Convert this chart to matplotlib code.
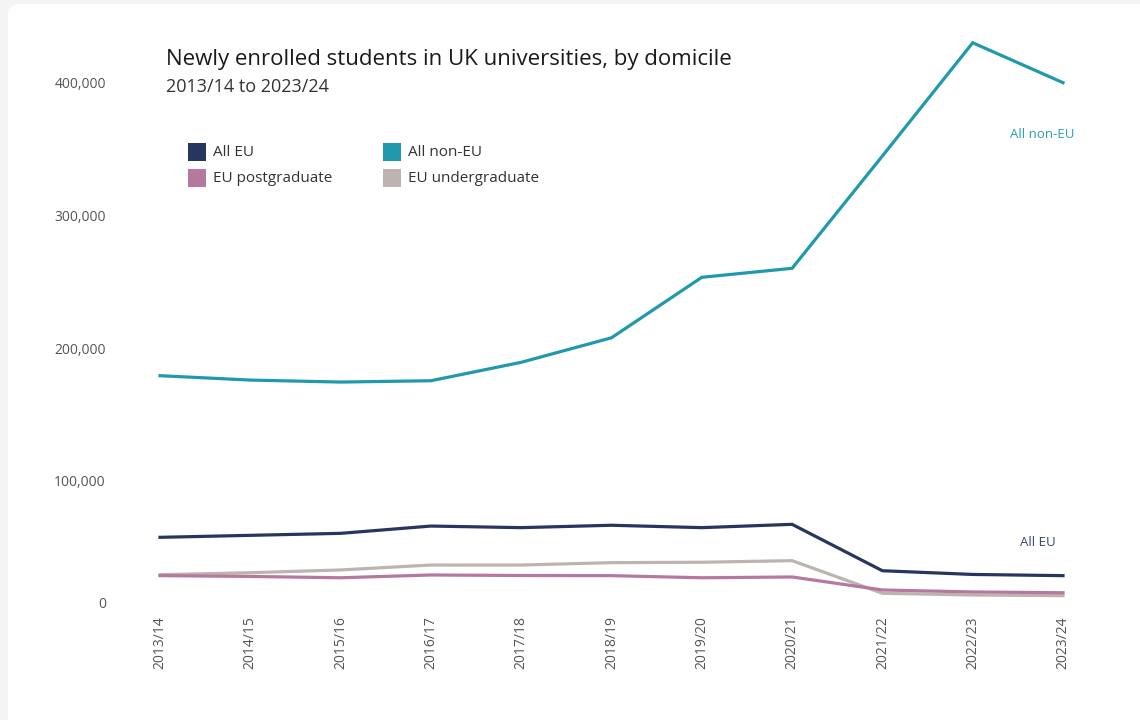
import matplotlib
matplotlib.use("Agg")
import matplotlib.pyplot as plt
from matplotlib.patches import FancyBboxPatch, Rectangle
from matplotlib.ticker import FuncFormatter

plt.rcParams['font.family'] = ['Open Sans', 'DejaVu Sans']

years = ["2013/14", "2014/15", "2015/16", "2016/17", "2017/18", "2018/19",
         "2019/20", "2020/21", "2021/22", "2022/23", "2023/24"]

all_eu = [57300, 58800, 60300, 65800, 64600, 66400, 64600, 67100, 32100, 29300, 28400]
all_non_eu = [179200, 175900, 174400, 175400, 189300, 207800, 253400, 260200, 344900, 430300, 400200]
eu_postgrad = [28400, 27800, 26800, 28900, 28500, 28400, 26800, 27400, 17600, 16100, 15500]
eu_undergrad = [29100, 30600, 32700, 36400, 36400, 38200, 38500, 39700, 15100, 13800, 13300]

series_names = ["All EU", "All non-EU", "EU postgraduate", "EU undergraduate"]
colors = {"All EU": "#27365f", "All non-EU": "#2199ad",
          "EU postgraduate": "#b5789f", "EU undergraduate": "#bdb4b0"}

yticks = [0, 100000, 200000, 300000, 400000]

W, H = 1140, 720
fig = plt.figure(figsize=(W / 100, H / 100), dpi=100)
fig.patch.set_facecolor("#f4f4f4")
panel = FancyBboxPatch((8 / W, -0.05), 1.2, (720 - 4) / H + 0.05,
                       boxstyle="round,pad=0,rounding_size=0.012",
                       transform=fig.transFigure, facecolor="white",
                       edgecolor="none", zorder=-10)
fig.patches.append(panel)

x0, x1 = 160, 1063
y_zero, y_top = 613.3, 29.9
ax = fig.add_axes([x0 / W, (H - y_zero) / H, (x1 - x0) / W, (y_zero - y_top) / H])
ax.set_facecolor("none")
ax.set_xlim(0, len(years) - 1)
ax.set_ylim(0, 440000)

xs = list(range(len(years)))
data = {"All EU": all_eu, "All non-EU": all_non_eu,
        "EU postgraduate": eu_postgrad, "EU undergraduate": eu_undergrad}
for name in ["EU undergraduate", "EU postgraduate", "All EU", "All non-EU"]:
    ax.plot(xs, data[name], color=colors[name], lw=2.3, clip_on=False,
            solid_joinstyle="miter", zorder=3)

for s in ax.spines.values():
    s.set_visible(False)
ax.set_xticks(xs)
ax.set_xticklabels(years, rotation=90, fontsize=10, color="#555555")
ax.set_yticks(yticks)
ax.yaxis.set_major_formatter(FuncFormatter(lambda v, p: "" if v == 0 else f"{int(v):,}"))
ax.tick_params(axis="y", length=0, pad=39, labelsize=10, labelcolor="#555555")
ax.tick_params(axis="x", length=0, pad=2)
ax.annotate("0", xy=(0, 0), xycoords=("axes fraction", "data"),
            xytext=(-39, 6.5), textcoords="offset points", ha="right", va="center",
            fontsize=10, color="#555555")

# Title & subtitle
fig.text(166 / W, 1 - 60 / H, "Newly enrolled students in UK universities, by domicile",
         fontsize=16, color="#1a1a1a", ha="left", va="center")
fig.text(166 / W, 1 - 87 / H, "2013/14 to 2023/24",
         fontsize=13, color="#333333", ha="left", va="center")

# Legend
leg_pos = {"All EU": (188, 152), "All non-EU": (383, 152),
           "EU postgraduate": (188, 178), "EU undergraduate": (383, 178)}
for name in series_names:
    lx, ly = leg_pos[name]
    fig.patches.append(Rectangle((lx / W, 1 - (ly + 9) / H), 18 / W, 18 / H,
                                 transform=fig.transFigure, facecolor=colors[name],
                                 edgecolor="none"))
    fig.text((lx + 25) / W, 1 - ly / H, name, fontsize=11, color="#333333",
             ha="left", va="center")

# Direct labels
ax.annotate("All non-EU", xy=(1075 / W, 1 - 134 / H), xycoords="figure fraction",
            ha="right", va="center", fontsize=9.5, color="#2a9fb4")
ax.annotate("All EU", xy=(1056 / W, 1 - 543 / H), xycoords="figure fraction",
            ha="right", va="center", fontsize=9.5, color="#3a4775")

fig.savefig("out.png", dpi=100, facecolor=fig.get_facecolor())
